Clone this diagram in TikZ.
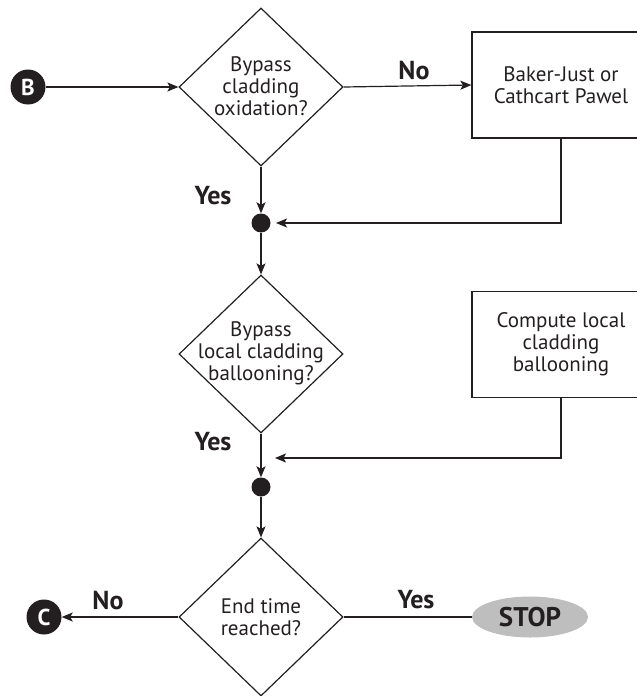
\documentclass[tikz,border=0pt]{standalone}
\usepackage{fontspec}
\setmainfont{PT Sans}
\usetikzlibrary{shapes.geometric,arrows.meta}

\definecolor{ink}{RGB}{35,31,32}
\definecolor{stopgray}{RGB}{190,190,190}

\tikzset{
	decision/.style={draw=ink, diamond, inner sep=0pt, line width=1.2pt,
		minimum width=164pt, minimum height=158pt},
	process/.style={draw=ink, rectangle, line width=1.2pt, align=center,
		minimum width=178pt, minimum height=106pt, text=ink,
		font=\fontsize{21}{22}\selectfont},
	question/.style={align=center, text=ink, font=\fontsize{21}{22}\selectfont},
	junction/.style={circle, fill=ink, inner sep=0pt, minimum size=19pt},
	connector/.style={circle, fill=ink, inner sep=0pt, minimum size=35pt,
		text=white, font=\fontsize{23}{23}\selectfont\bfseries},
	terminal/.style={ellipse, fill=stopgray, inner sep=0pt, minimum width=116pt,
		minimum height=41pt, text=ink, font=\fontsize{27}{27}\selectfont\bfseries},
	answer/.style={text=ink, font=\fontsize{26}{26}\selectfont\bfseries},
	flow/.style={draw=ink, line width=1.2pt},
	arr/.style={flow, -{Stealth[length=11pt,width=9pt,inset=2.5pt]}}
}

\begin{document}
\begin{tikzpicture}[x=1pt, y=-1pt]
	\clip (0,0) rectangle (637,696);

	% first decision
	\node [connector] (B) at (28,87) {B};
	\node [decision] (bypassOx) at (261,87) {};
	\node [question] (bypassOxTxt) at (261,86) {Bypass\\cladding\\oxidation?};
	\node [process] (bakerJust) at (561,85) {Baker-Just or\\Cathcart Pawel};
	\node [junction] (join1) at (261,223) {};
	\node [answer] (noOx) at (414,71) {No};
	\node [answer] (yesOx) at (213,196) {Yes};

	% second decision
	\node [decision] (bypassBal) at (261,354) {};
	\node [question] (bypassBalTxt) at (261,353) {Bypass\\local cladding\\ballooning?};
	\node [process] (computeBal) at (561,344.5) {Compute local\\cladding\\ballooning};
	\coordinate (merge2) at (261,458);
	\node [junction] (join2) at (261,487) {};
	\node [answer] (yesBal) at (213,442) {Yes};

	% end check
	\node [decision] (endTime) at (261,617) {};
	\node [question] (endTimeTxt) at (261,617) {End time\\reached?};
	\node [connector] (C) at (44,617) {C};
	\node [terminal] (stop) at (530,617) {STOP};
	\node [answer] (noEnd) at (108,601) {No};
	\node [answer] (yesEnd) at (416,600) {Yes};

	\draw [arr] (B) -- (bypassOx.west);
	\draw [arr] (bypassOx.east) -- (bakerJust.west);
	\draw [arr] (bypassOx.south) -- (join1);
	\draw [arr, shorten >=15pt] (bakerJust.south) |- (join1.center);
	\draw [arr] (join1) -- (bypassBal.north);
	\draw [arr] (bypassBal.south) -- (join2);
	\draw [arr, shorten >=14pt] (computeBal.south) |- (merge2);
	\draw [arr] (join2) -- (endTime.north);
	\draw [arr] (endTime.west) -- (C);
	\draw [flow] (endTime.east) -- (stop);
\end{tikzpicture}
\end{document}
